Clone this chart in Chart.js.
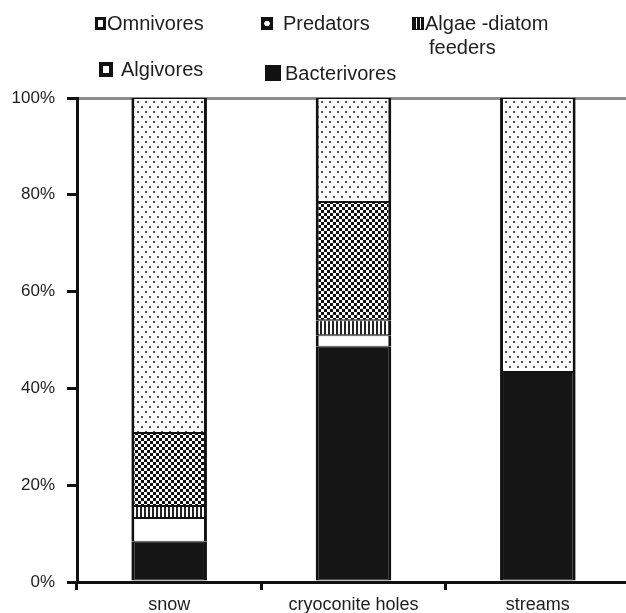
<!DOCTYPE html>
<html>
<head>
<meta charset="utf-8">
<script src="https://cdn.jsdelivr.net/npm/chart.js@4/dist/chart.umd.min.js"></script>
<style>
  html, body { margin: 0; padding: 0; background: #fff; overflow: hidden; width: 626px; height: 613px; }
  #wrap { position: relative; width: 626px; height: 613px; }
  canvas { position: absolute; left: 0; top: 0; }
  .lg { position: absolute; font-family: "Liberation Sans", Arial, sans-serif; font-size: 20px; color: #1e1e1e; line-height: 24px; white-space: nowrap; }
  .ic { position: absolute; box-sizing: border-box; }
</style>
</head>
<body>
<div id="wrap">
  <canvas id="c" width="632" height="613"></canvas>
  <div class="ic" style="left:95px;top:17px;width:11px;height:13px;border:3px solid #111;background:#fff;"></div>
  <div class="lg" style="left:107px;top:11px;">Omnivores</div>
  <div class="ic" style="left:261px;top:17px;width:12px;height:13px;background:radial-gradient(circle at 50% 50%, #fff 0 2.5px, #111 3px);"></div>
  <div class="lg" style="left:283px;top:11px;">Predators</div>
  <div class="ic" style="left:412px;top:17px;width:12px;height:13px;background:repeating-linear-gradient(90deg,#111 0 3px,#fff 3px 4px);border:1px solid #111;"></div>
  <div class="lg" style="left:425px;top:11px;">Algae -diatom</div>
  <div class="lg" style="left:429px;top:35px;">feeders</div>
  <div class="ic" style="left:99px;top:62px;width:14px;height:15px;border:4px solid #111;background:#fff;"></div>
  <div class="lg" style="left:121px;top:57px;">Algivores</div>
  <div class="ic" style="left:265px;top:65px;width:16px;height:16px;background:#111;"></div>
  <div class="lg" style="left:285px;top:61px;">Bacterivores</div>
</div>
<script>
const categories = ["snow", "cryoconite holes", "streams"];
const bacterivores = [8.3, 48.6, 43.4];
const algivores = [4.9, 2.4, 0];
const algaeDiatomFeeders = [2.5, 3.1, 0];
const predators = [15.1, 24.4, 0];
const omnivores = [69.2, 21.5, 56.6];
const yTicks = [0, 20, 40, 60, 80, 100];

function makePattern(w, h, draw) {
  const c = document.createElement('canvas');
  c.width = w; c.height = h;
  const g = c.getContext('2d');
  draw(g);
  return document.getElementById('c').getContext('2d').createPattern(c, 'repeat');
}
const dotted = makePattern(8, 10, g => {
  g.fillStyle = '#fff'; g.fillRect(0, 0, 8, 10);
  g.fillStyle = '#555'; g.fillRect(1, 1, 2, 2); g.fillRect(5, 6, 2, 2);
});
const checker = makePattern(6, 6, g => {
  g.fillStyle = '#111'; g.fillRect(0, 0, 6, 6);
  g.fillStyle = '#fff'; g.fillRect(0, 0, 3, 3); g.fillRect(3, 3, 3, 3);
});
const stripes = makePattern(4, 4, g => {
  g.fillStyle = '#fff'; g.fillRect(0, 0, 4, 4);
  g.fillStyle = '#222'; g.fillRect(0, 0, 2, 4);
});

const border = {left: 3, right: 3, top: 1, bottom: 1};
function ds(label, data, bg) {
  return { label, data, backgroundColor: bg, borderColor: '#111', borderWidth: border, borderSkipped: false,
    categoryPercentage: 1, barPercentage: 0.41 };
}

new Chart(document.getElementById('c'), {
  type: 'bar',
  data: {
    labels: categories,
    datasets: [
      ds('Bacterivores', bacterivores, '#151515'),
      ds('Algivores', algivores, '#ffffff'),
      ds('Algae -diatom feeders', algaeDiatomFeeders, stripes),
      ds('Predators', predators, checker),
      ds('Omnivores', omnivores, dotted)
    ]
  },
  options: {
    responsive: false,
    animation: false,
    layout: { padding: { top: 98, right: 2, left: 0, bottom: 0 } },
    plugins: { legend: { display: false }, tooltip: { enabled: false } },
    scales: {
      x: {
        stacked: true,
        afterFit: s => { s.height = 31; },
        grid: { offset: true, drawOnChartArea: false, drawTicks: true, tickLength: 8, tickColor: '#111', tickWidth: 3, color: '#111', lineWidth: 3 },
        border: { display: true, color: '#111', width: 3 },
        ticks: { color: '#1e1e1e', font: { family: 'Liberation Sans', size: 18 }, padding: 4, maxRotation: 0 }
      },
      y: {
        stacked: true,
        min: 0, max: 100,
        afterFit: s => { s.width = 77; },
        afterBuildTicks: s => { s.ticks = yTicks.map(v => ({ value: v })); },
        grid: {
          drawOnChartArea: true, drawTicks: true, tickLength: 10, tickColor: '#111', tickWidth: 3, lineWidth: 3,
          color: c => (c.tick && c.tick.value === 100) ? '#8c8c8c' : 'rgba(0,0,0,0)'
        },
        border: { display: true, color: '#111', width: 3 },
        ticks: { color: '#1e1e1e', font: { family: 'Liberation Sans', size: 17 }, padding: 12, callback: v => v + '%' }
      }
    }
  }
});
</script>
</body>
</html>
